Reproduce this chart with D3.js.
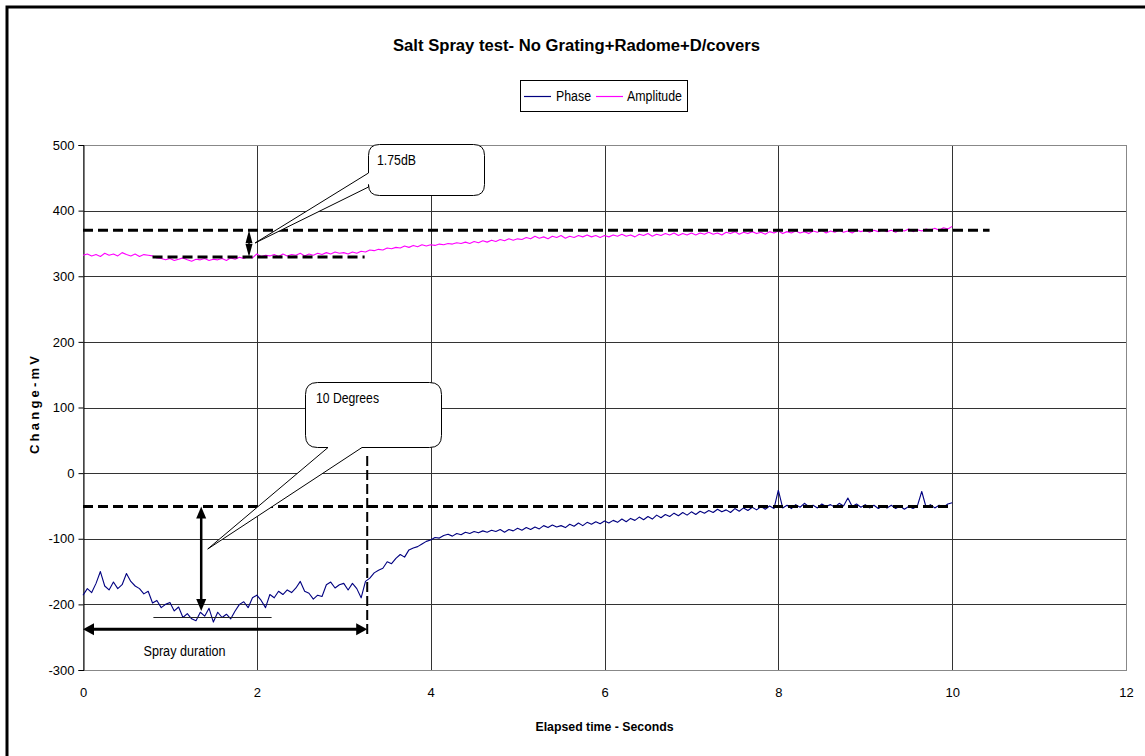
<!DOCTYPE html>
<html>
<head>
<meta charset="utf-8">
<script src="https://cdn.jsdelivr.net/npm/d3@7"></script>
<style>
  html, body { margin: 0; padding: 0; background: #fff; }
  svg { display: block; font-family: "Liberation Sans", Arial, sans-serif; }
</style>
</head>
<body>
<svg id="chart" width="1145" height="756"></svg>
<script>
// Sample interval of the logger, seconds
const sampleStep = 0.05;

// Phase channel, mV change (one value per sample)
const phaseValues = [
  -186,-176,-182,-168,-150,-172,-178,-166,-176,-170,
  -153,-165,-172,-176,-184,-180,-198,-194,-205,-200,
  -197,-210,-204,-220,-214,-222,-225,-212,-218,-206,
  -227,-212,-220,-215,-222,-210,-200,-196,-205,-190,
  -186,-194,-205,-185,-190,-180,-185,-178,-182,-175,
  -165,-180,-183,-192,-186,-188,-170,-166,-175,-170,
  -168,-178,-168,-176,-190,-165,-160,-152,-148,-145,
  -135,-138,-130,-124,-128,-117,-114,-112,-108,-104,
  -102,-98,-99,-95,-93,-96,-92,-94,-90,-92,
  -89,-91,-88,-90,-87,-89,-86,-90,-86,-88,
  -84,-87,-83,-86,-82,-85,-80,-83,-79,-82,
  -80,-83,-78,-81,-76,-80,-75,-78,-74,-77,
  -73,-76,-72,-75,-70,-74,-69,-72,-67,-71,
  -66,-70,-64,-68,-63,-66,-61,-65,-60,-64,
  -59,-63,-58,-61,-57,-60,-55,-59,-56,-60,
  -54,-58,-53,-57,-52,-56,-51,-55,-50,-54,
  -26,-53,-49,-54,-48,-52,-46,-51,-49,-53,
  -47,-51,-48,-52,-46,-50,-38,-51,-47,-52,
  -48,-53,-49,-54,-50,-53,-49,-54,-50,-55,
  -51,-54,-50,-28,-52,-48,-53,-49,-52,-47,
  -45
];

// Amplitude channel, mV change (one value per sample)
const amplitudeValues = [
  332,334,331,333,330,335,332,334,331,336,
  333,331,334,330,333,332,331,328,327,325,
  327,324,326,328,325,323,326,325,327,324,
  326,325,327,324,328,326,329,327,330,328,
  334,330,332,331,333,330,334,331,333,332,
  335,331,334,332,335,333,336,334,337,335,
  336,334,337,335,338,337,340,339,341,340,
  343,342,344,343,346,344,347,345,348,346,
  348,347,349,348,350,349,351,350,352,350,
  353,351,354,352,355,353,356,354,357,355,
  357,356,359,357,361,358,360,357,361,359,
  362,358,361,359,362,360,363,360,362,359,
  362,360,363,361,364,361,363,360,364,362,
  365,361,364,362,365,363,366,362,365,363,
  366,363,366,364,367,364,366,363,367,365,
  368,364,367,365,368,365,367,364,368,366,
  369,365,368,366,369,366,368,365,369,367,
  370,366,369,367,370,367,369,366,370,368,
  370,367,370,368,371,368,370,367,371,369,
  372,368,371,369,372,370,373,370,374,372,
  376
];

const seriesNames = ["Phase", "Amplitude"];
const seriesColors = ["#000080", "#FF00FF"];
const xTicks = [0, 2, 4, 6, 8, 10, 12];
const yTicks = [-300, -200, -100, 0, 100, 200, 300, 400, 500];

// Reference levels marked on the amplitude trace
const ampUpperLevel = 370;
const ampLowerLevel = 329.5;
const ampLowerSpan = [0.8, 3.24];
const ampUpperEnd = 10.43;
const ampArrowTime = 1.91;

// Reference levels marked on the phase trace
const phaseUpperLevel = -51;
const phaseUpperEnd = 10.0;
const phaseMinLevel = -219;
const phaseMinSpan = [0.81, 2.17];
const phaseArrowTime = 1.36;
const phaseArrowBottom = -210;

// Spray period
const sprayEnd = 3.27;
const sprayArrowLevel = -238;
const sprayMarkerRange = [-245, 26];

// Callout tips (time, mV)
const dbCalloutTip = [1.98, 350.7];
const degCalloutTip = [1.435, -115.6];

const svg = d3.select("#chart");
const plot = { left: 83, right: 1126, top: 145, bottom: 670 };

const x = d3.scaleLinear().domain([0, 12]).range([plot.left, plot.right]);
const y = d3.scaleLinear().domain([-300, 500]).range([plot.bottom, plot.top]);
const crisp = v => Math.round(v) + 0.5;

// Outer chart frame (top and left edges)
svg.append("path")
  .attr("d", "M7,756 V7 H1145")
  .attr("fill", "none").attr("stroke", "#000").attr("stroke-width", 3);

// Title
svg.append("text")
  .attr("x", 576.5).attr("y", 51)
  .attr("text-anchor", "middle")
  .attr("font-size", 16).attr("font-weight", "bold")
  .attr("textLength", 367).attr("lengthAdjust", "spacingAndGlyphs")
  .text("Salt Spray test- No Grating+Radome+D/covers");

// Legend
const legend = svg.append("g");
legend.append("rect")
  .attr("x", 520.5).attr("y", 80.5).attr("width", 167).attr("height", 31)
  .attr("fill", "#fff").attr("stroke", "#000");
const legendItems = [
  { lx: 524, tx: 556, tw: 35 },
  { lx: 596, tx: 627, tw: 55 }
];
seriesNames.forEach((name, i) => {
  const it = legendItems[i];
  legend.append("line")
    .attr("x1", it.lx).attr("x2", it.lx + 27).attr("y1", 96.5).attr("y2", 96.5)
    .attr("stroke", seriesColors[i]).attr("stroke-width", 1.2);
  legend.append("text")
    .attr("x", it.tx).attr("y", 101)
    .attr("font-size", 14)
    .attr("textLength", it.tw).attr("lengthAdjust", "spacingAndGlyphs")
    .text(name);
});

// Gridlines
const grid = svg.append("g");
grid.selectAll("line.h").data(yTicks.filter(v => v > -300 && v < 500)).join("line")
  .attr("x1", plot.left).attr("x2", plot.right)
  .attr("y1", d => crisp(y(d))).attr("y2", d => crisp(y(d)))
  .attr("stroke", "#333").attr("stroke-width", 1);
grid.selectAll("line.v").data(xTicks.filter(v => v > 0 && v < 12)).join("line")
  .attr("x1", d => crisp(x(d))).attr("x2", d => crisp(x(d)))
  .attr("y1", plot.top).attr("y2", plot.bottom)
  .attr("stroke", "#333").attr("stroke-width", 1);

// Plot area border
svg.append("rect")
  .attr("x", crisp(plot.left)).attr("y", crisp(plot.top))
  .attr("width", Math.round(plot.right) - Math.round(plot.left))
  .attr("height", Math.round(plot.bottom) - Math.round(plot.top))
  .attr("fill", "none").attr("stroke", "#888");

// Y axis (plain hyphen for negative numbers)
const yAxis = d3.axisLeft(y).tickValues(yTicks).tickSize(5).tickPadding(4).tickFormat(d => String(d));
const gy = svg.append("g").attr("transform", `translate(${crisp(plot.left)},0)`).call(yAxis);
gy.select(".domain").attr("stroke", "#000");
gy.selectAll(".tick line").attr("stroke", "#000");
gy.selectAll(".tick text").attr("font-size", 13).attr("font-family", "Liberation Sans, Arial, sans-serif").attr("fill", "#000");

// X axis labels
const xAxis = d3.axisBottom(x).tickValues(xTicks).tickSize(0).tickPadding(17).tickFormat(d => String(d));
const gx = svg.append("g").attr("transform", `translate(0,${crisp(plot.bottom)})`).call(xAxis);
gx.select(".domain").remove();
gx.selectAll(".tick text").attr("font-size", 13).attr("font-family", "Liberation Sans, Arial, sans-serif").attr("fill", "#000");

// Axis titles
svg.append("text")
  .attr("x", 604.5).attr("y", 731)
  .attr("text-anchor", "middle")
  .attr("font-size", 12).attr("font-weight", "bold")
  .attr("textLength", 138).attr("lengthAdjust", "spacingAndGlyphs")
  .text("Elapsed time - Seconds");
svg.append("text")
  .attr("transform", "translate(39,405) rotate(-90)")
  .attr("text-anchor", "middle")
  .attr("font-size", 13).attr("font-weight", "bold")
  .attr("textLength", 98).attr("lengthAdjust", "spacing")
  .text("Change-mV");

// Data series
const line = d3.line().x((d, i) => x(i * sampleStep)).y(d => y(d));
[phaseValues, amplitudeValues].forEach((vals, i) => {
  svg.append("path")
    .datum(vals)
    .attr("d", line)
    .attr("fill", "none")
    .attr("stroke", seriesColors[i])
    .attr("stroke-width", 1.1)
    .attr("stroke-linejoin", "round");
});

// Dashed reference lines
const refs = svg.append("g").attr("stroke", "#000").attr("fill", "none");
function dashedH(t0, t1, v) {
  refs.append("line")
    .attr("x1", x(t0)).attr("x2", x(t1)).attr("y1", y(v)).attr("y2", y(v))
    .attr("stroke-width", 3).attr("stroke-dasharray", "10,5");
}
dashedH(0, ampUpperEnd, ampUpperLevel);
dashedH(ampLowerSpan[0], ampLowerSpan[1], ampLowerLevel);
dashedH(0, phaseUpperEnd, phaseUpperLevel);
refs.append("line")
  .attr("x1", x(sprayEnd)).attr("x2", x(sprayEnd))
  .attr("y1", y(sprayMarkerRange[1])).attr("y2", y(sprayMarkerRange[0]))
  .attr("stroke-width", 2).attr("stroke-dasharray", "10,4");
refs.append("line")
  .attr("x1", x(phaseMinSpan[0])).attr("x2", x(phaseMinSpan[1]))
  .attr("y1", crisp(y(phaseMinLevel))).attr("y2", crisp(y(phaseMinLevel)))
  .attr("stroke", "#222").attr("stroke-width", 1);

// Double-headed arrows
function arrow(x1, y1, x2, y2, headLen, headW, width) {
  const g = svg.append("g");
  const dx = x2 - x1, dy = y2 - y1, L = Math.hypot(dx, dy);
  const ux = dx / L, uy = dy / L, px = -uy, py = ux;
  g.append("line")
    .attr("x1", x1 + ux * headLen * 0.8).attr("y1", y1 + uy * headLen * 0.8)
    .attr("x2", x2 - ux * headLen * 0.8).attr("y2", y2 - uy * headLen * 0.8)
    .attr("stroke", "#000").attr("stroke-width", width);
  const head = (tx, ty, sx, sy) => {
    const bx = tx + sx * headLen, by = ty + sy * headLen;
    return `M${tx},${ty} L${bx + px * headW / 2},${by + py * headW / 2} L${bx - px * headW / 2},${by - py * headW / 2} Z`;
  };
  g.append("path").attr("d", head(x1, y1, ux, uy)).attr("fill", "#000");
  g.append("path").attr("d", head(x2, y2, -ux, -uy)).attr("fill", "#000");
}
arrow(x(phaseArrowTime), y(phaseUpperLevel), x(phaseArrowTime), y(phaseArrowBottom), 12, 10, 2.5);
arrow(x(ampArrowTime), y(ampUpperLevel), x(ampArrowTime), y(ampLowerLevel), 13, 7, 1.5);
arrow(x(0), y(sprayArrowLevel), x(sprayEnd), y(sprayArrowLevel), 11, 12, 3);

svg.append("text")
  .attr("x", 143.5).attr("y", 656)
  .attr("font-size", 14)
  .attr("textLength", 82).attr("lengthAdjust", "spacingAndGlyphs")
  .text("Spray duration");

// Callouts
function calloutLeft(x0, y0, x1, y1, r, b0, b1, tip) {
  return `M${x0 + r},${y0} H${x1 - r} Q${x1},${y0} ${x1},${y0 + r} V${y1 - r} Q${x1},${y1} ${x1 - r},${y1}` +
    ` H${x0 + r} Q${x0},${y1} ${x0},${y1 - r} L${x0},${b1} L${tip[0]},${tip[1]} L${x0},${b0} V${y0 + r} Q${x0},${y0} ${x0 + r},${y0} Z`;
}
function calloutBottom(x0, y0, x1, y1, r, b0, b1, tip) {
  return `M${x0 + r},${y0} H${x1 - r} Q${x1},${y0} ${x1},${y0 + r} V${y1 - r} Q${x1},${y1} ${x1 - r},${y1}` +
    ` H${b1} L${tip[0]},${tip[1]} L${b0},${y1} H${x0 + r} Q${x0},${y1} ${x0},${y1 - r} V${y0 + r} Q${x0},${y0} ${x0 + r},${y0} Z`;
}
svg.append("path")
  .attr("d", calloutLeft(368.5, 144.5, 484.5, 195.5, 11, 173, 187, [x(dbCalloutTip[0]), y(dbCalloutTip[1])]))
  .attr("fill", "#fff").attr("stroke", "#000").attr("stroke-width", 1);
svg.append("text")
  .attr("x", 377).attr("y", 165)
  .attr("font-size", 14)
  .attr("textLength", 39).attr("lengthAdjust", "spacingAndGlyphs")
  .text("1.75dB");

svg.append("path")
  .attr("d", calloutBottom(305.5, 382.5, 441.5, 447.5, 12, 328, 362, [x(degCalloutTip[0]), y(degCalloutTip[1])]))
  .attr("fill", "#fff").attr("stroke", "#000").attr("stroke-width", 1);
svg.append("text")
  .attr("x", 316).attr("y", 403)
  .attr("font-size", 14)
  .attr("textLength", 63).attr("lengthAdjust", "spacingAndGlyphs")
  .text("10 Degrees");
</script>
</body>
</html>
